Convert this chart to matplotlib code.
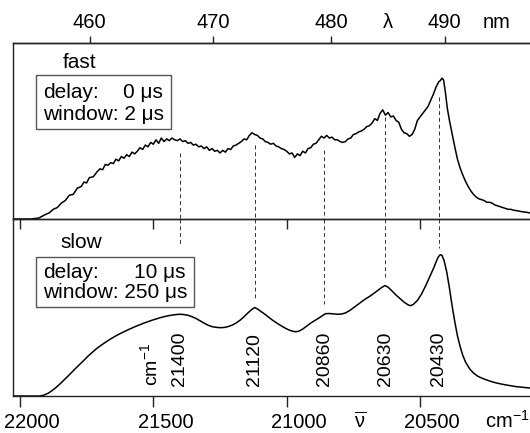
import numpy as np
import matplotlib
matplotlib.use('Agg')
import matplotlib.pyplot as plt
from matplotlib.patches import Rectangle
from matplotlib.transforms import ScaledTranslation

plt.rcParams['font.family'] = ['Liberation Sans', 'DejaVu Sans']
plt.rcParams['mathtext.fontset'] = 'custom'
plt.rcParams['mathtext.rm'] = 'Liberation Sans'
plt.rcParams['mathtext.it'] = 'Liberation Sans'

# ---------------- data ----------------
fast_nu = [22026, 21960, 21930, 21905, 21890, 21875, 21860, 21845, 21830, 21815,
           21800, 21785, 21770, 21760, 21750, 21740, 21725, 21710, 21700, 21690,
           21680, 21670, 21660, 21650, 21640, 21630, 21620, 21610, 21600, 21590,
           21580, 21570, 21560, 21550, 21540, 21530, 21520, 21510, 21500, 21490,
           21480, 21470, 21460, 21450, 21440, 21430, 21420, 21410, 21400, 21390,
           21380, 21370, 21360, 21350, 21340, 21330, 21320, 21310, 21300, 21290,
           21280, 21270, 21260, 21250, 21240, 21230, 21220, 21210, 21200, 21190,
           21180, 21170, 21160, 21150, 21140, 21130, 21120, 21110, 21100, 21090,
           21080, 21070, 21060, 21050, 21040, 21030, 21020, 21010, 21000, 20990,
           20980, 20970, 20960, 20950, 20940, 20930, 20920, 20910, 20900, 20890,
           20880, 20870, 20860, 20850, 20840, 20830, 20820, 20810, 20800, 20790,
           20780, 20770, 20760, 20750, 20740, 20730, 20720, 20710, 20700, 20690,
           20680, 20670, 20660, 20650, 20640, 20630, 20620, 20610, 20600, 20590,
           20580, 20570, 20560, 20550, 20540, 20530, 20520, 20510, 20500, 20490,
           20480, 20470, 20460, 20450, 20440, 20430, 20425, 20418, 20412, 20406,
           20398, 20390, 20380, 20370, 20360, 20350, 20340, 20330, 20320, 20310,
           20300, 20290, 20280, 20270, 20260, 20250, 20240, 20230, 20220, 20210,
           20200, 20190, 20180, 20170, 20160, 20150, 20140, 20130, 20120, 20110,
           20100, 20088]
fast_int = [0, 0, 0.5, 2.5, 3.5, 5.5, 6.5, 9, 10.5, 13.5,
            14, 17.5, 18.5, 21, 20.5, 23.5, 24, 27, 28.5, 28,
            31, 30.5, 32, 31.5, 34, 33, 35.5, 34.5, 36.5, 35.5,
            38, 37, 38.5, 40.5, 39.5, 42, 41, 43.5, 42.5, 45,
            43, 46, 44, 45.5, 44.5, 46, 45, 44.5, 45.5, 44,
            44.5, 43, 43.5, 42, 42.5, 41, 41.5, 40, 41, 39,
            40, 38.5, 39, 37.5, 39, 38, 40, 39.5, 41.5, 42,
            43, 44, 45.5, 45, 47.5, 49, 48, 47.5, 46, 45.5,
            44, 43.5, 42.5, 43, 41.5, 41, 40, 39.5, 38.5, 37,
            37.5, 35, 37, 36, 38.5, 37.5, 40, 40.5, 42.5, 43,
            45, 47, 46, 47.5, 46, 46.5, 45, 45, 44, 43.5,
            44, 45.5, 46, 48, 48.5, 49.5, 50, 51, 52.5, 53,
            54.5, 57, 56, 60, 62, 59, 60.5, 58, 58.5, 56,
            55, 51, 49, 48.5, 47, 48, 51, 56, 58, 60,
            62, 64, 67.5, 71, 75, 78, 78.5, 80, 79, 73,
            63, 56, 48.5, 41, 34, 29, 25, 21.5, 18.5, 16,
            14, 12.5, 11.5, 11, 10.5, 9.5, 9.5, 9, 8, 7.5,
            7, 6.5, 6, 5.5, 5.5, 5, 4.8, 4.5, 4.2, 4,
            3.8, 3.4]

slow_nu = [22026, 21960, 21925, 21910, 21895, 21880, 21865, 21850, 21835, 21820,
           21805, 21790, 21775, 21760, 21745, 21730, 21715, 21700, 21685, 21670,
           21655, 21640, 21625, 21610, 21595, 21580, 21565, 21550, 21535, 21520,
           21505, 21490, 21475, 21460, 21445, 21430, 21415, 21400, 21385, 21370,
           21355, 21340, 21325, 21310, 21295, 21280, 21265, 21250, 21235, 21220,
           21205, 21190, 21175, 21160, 21145, 21130, 21120, 21110, 21095, 21080,
           21065, 21050, 21035, 21020, 21005, 20990, 20975, 20965, 20955, 20940,
           20925, 20910, 20895, 20880, 20865, 20855, 20840, 20825, 20810, 20795,
           20780, 20765, 20750, 20735, 20720, 20705, 20690, 20675, 20660, 20645,
           20632, 20620, 20605, 20590, 20575, 20560, 20545, 20535, 20525, 20510,
           20495, 20480, 20465, 20450, 20440, 20432, 20425, 20418, 20410, 20400,
           20390, 20380, 20370, 20360, 20350, 20340, 20330, 20315, 20300, 20285,
           20270, 20255, 20240, 20220, 20200, 20180, 20160, 20140, 20120, 20100,
           20088]
slow_int = [0, 0, 0, 0.5, 1.5, 3, 4.8, 6.8, 9, 11.2,
            13.5, 15.8, 18, 20.2, 22.5, 24.5, 26.5, 28.2, 29.8, 31.3,
            32.7, 34, 35.2, 36.3, 37.4, 38.4, 39.4, 40.3, 41.2, 42,
            42.8, 43.5, 44.2, 44.8, 45.3, 45.7, 46, 46.2, 46, 45.6,
            44.8, 43.8, 42.5, 41.2, 40, 39.2, 38.8, 38.6, 38.7, 39.2,
            40, 41.2, 42.8, 44.8, 47, 49, 50, 49.2, 47.6, 46,
            44.2, 42.5, 41, 39.6, 38.3, 37.2, 36.5, 36.3, 36.6, 37.8,
            39.5, 41.2, 42.6, 44, 45.5, 46.5, 46.6, 46.4, 46.2, 46.3,
            46.9, 48.2, 49.8, 51.5, 53.2, 54.8, 56.2, 57.8, 59.5, 61.2,
            62.4, 61.5, 59.3, 57, 55, 53, 51.5, 51, 51.8, 54,
            57.5, 62, 67, 72, 75.8, 78.5, 79.8, 79.5, 76.5, 70,
            61, 51, 42, 34, 28, 23, 19.3, 15.5, 13, 11.3,
            10.2, 9.3, 8.5, 7.6, 6.9, 6.3, 5.8, 5.3, 5, 4.7,
            4.5]

peak_nu = [21400, 21120, 20860, 20630, 20430]
peak_labels = ['21400', '21120', '20860', '20630', '20430']
dash_top_start = [37.5, 42, 39.2, 57.9, 69.3]      # in fast panel units
dash_bottom_end = [85.4, 55.6, 51.7, 67.4, 83.7]   # in slow panel units

nu_ticks = [22000, 21500, 21000, 20500]
wl_ticks = [460, 470, 480, 490]

# ---------------- figure ----------------
W, H = 530, 433
fig = plt.figure(figsize=(W / 100, H / 100), dpi=100)

def fx(px):
    return px / W

def fy(py):
    return 1 - py / H

xlim = (22026, 20088)
ax1 = fig.add_axes([fx(13), fy(219), 1 - fx(13), fy(43) - fy(219)])
ax2 = fig.add_axes([fx(13), fy(396), 1 - fx(13), fy(219) - fy(396)])

for ax in (ax1, ax2):
    ax.set_xlim(*xlim)
    ax.set_ylim(0, 100)
    ax.set_yticks([])
    ax.spines['right'].set_visible(False)
    for s in ('left', 'top', 'bottom'):
        ax.spines[s].set_linewidth(1.0)
        ax.spines[s].set_color('#222222')
    ax.patch.set_visible(False)

ax1.plot(fast_nu, fast_int, color='black', lw=1.1)
ax2.plot(slow_nu, slow_int, color='black', lw=1.1)

# top panel: ticks on the divider pointing down into the lower panel
ax1.set_xticks(nu_ticks)
ax1.tick_params(axis='x', direction='out', length=7, width=1, labelbottom=False,
                color='#222222')

# wavelength axis on top
sec = ax1.secondary_xaxis('top', functions=(lambda n: 1e7 / n, lambda l: 1e7 / l))
sec.set_xticks(wl_ticks)
sec.tick_params(direction='out', length=5, width=1, labelsize=14.5, pad=3,
                color='#222222')
sec.spines['top'].set_linewidth(1.0)

# bottom panel wavenumber axis (labels sit a bit right of their ticks)
ax2.set_xticks(nu_ticks)
ax2.tick_params(axis='x', direction='out', length=8, width=1, labelsize=14.5, pad=4,
                color='#222222')
shift = ScaledTranslation(0.12, 0, fig.dpi_scale_trans)
for tick in ax2.xaxis.get_major_ticks():
    tick.label1.set_transform(tick.label1.get_transform() + shift)

# dashed peak markers crossing both panels
for nu, y0, y1 in zip(peak_nu, dash_top_start, dash_bottom_end):
    ax1.plot([nu, nu], [y0, 0], color='#333333', lw=0.7, ls=(0, (4, 3)), clip_on=False)
    ax2.plot([nu, nu], [100, y1], color='#333333', lw=0.7, ls=(0, (4, 3)), clip_on=False)

# peak labels
for nu, lab in zip(peak_nu, peak_labels):
    ax2.text(nu, 5.6, lab, rotation=90, ha='center', va='bottom', fontsize=14)
ax2.text(21512, 5.6, 'cm$^{-1}$', rotation=90, ha='center', va='bottom', fontsize=14)

# axis annotations
fig.text(fx(388), fy(23), 'λ', ha='center', va='center', fontsize=14.5)
fig.text(fx(497), fy(23), 'nm', ha='center', va='center', fontsize=14.5)
fig.text(fx(360), fy(421), r'$\overline{\mathrm{\nu}}$', ha='center', va='center',
         fontsize=14.5)
fig.text(fx(507), fy(421), 'cm$^{-1}$', ha='center', va='center', fontsize=14.5)

# legends / boxes
fig.text(fx(80), fy(62), 'fast', ha='center', va='center', fontsize=15)
fig.add_artist(Rectangle((fx(36), fy(129)), fx(171) - fx(36), fy(75) - fy(129),
                         transform=fig.transFigure, fill=False, ec='#555555', lw=1))
fig.text(fx(43), fy(92), 'delay:', ha='left', va='center', fontsize=15)
fig.text(fx(163), fy(92), '0 μs', ha='right', va='center', fontsize=15)
fig.text(fx(43), fy(114), 'window: 2 μs', ha='left', va='center', fontsize=15)

fig.text(fx(81), fy(243), 'slow', ha='center', va='center', fontsize=15)
fig.add_artist(Rectangle((fx(36), fy(307)), fx(194) - fx(36), fy(257) - fy(307),
                         transform=fig.transFigure, fill=False, ec='#555555', lw=1))
fig.text(fx(43), fy(272), 'delay:', ha='left', va='center', fontsize=15)
fig.text(fx(185), fy(272), '10 μs', ha='right', va='center', fontsize=15)
fig.text(fx(43), fy(293), 'window: 250 μs', ha='left', va='center', fontsize=15)

fig.savefig('out.png', dpi=100)
